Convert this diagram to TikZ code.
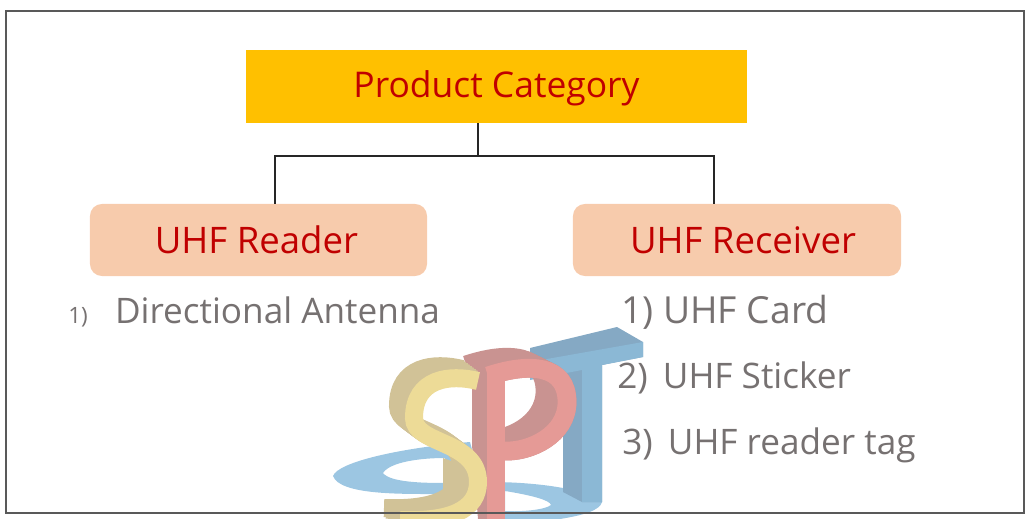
\documentclass[tikz,border=0pt]{standalone}
\usepackage{fontspec}
\setmainfont{Open Sans}
\definecolor{catfill}{HTML}{FFC000}
\definecolor{subfill}{HTML}{F7CBAC}
\definecolor{headred}{HTML}{C00000}
\definecolor{itemgray}{HTML}{767171}
\definecolor{framegray}{HTML}{595959}
\definecolor{ringblue}{HTML}{9CC6E2}
\definecolor{sfront}{HTML}{EDDB97}
\definecolor{sback}{HTML}{D1C297}
\definecolor{pfront}{HTML}{E59A96}
\definecolor{pback}{HTML}{C99391}
\definecolor{tfront}{HTML}{8BB8D5}
\definecolor{tback}{HTML}{85A9C4}
\newcommand{\spath}{(478,381) .. controls (450,374) and (414,378) .. (414,418) .. controls (414,445) and (478,440) .. (478,482) .. controls (478,510) and (450,522) .. (400,520)}
\newcommand{\ppath}{(488,376) .. controls (530,362) and (567,365) .. (567,402) .. controls (567,435) and (530,452) .. (505,451)}
\tikzset{
  headbox/.style={text=headred, font=\fontsize{26}{28}\selectfont, align=center, inner sep=0pt},
  subbox/.style={headbox, fill=subfill, rounded corners=0.3cm, minimum height=1.8cm},
  itemtext/.style={text=itemgray, font=\fontsize{25}{28}\selectfont, anchor=base west, inner sep=0pt},
  link/.style={draw=black!85, line width=0.8pt}
}
\begin{document}
\begin{tikzpicture}[x=0.025cm,y=-0.025cm]
\useasboundingbox (0,0) rectangle (1025,519);
%% Logo
\fill[ringblue, even odd rule] (333,476) .. controls (338,462) and (400,448) .. (470,442) -- (480,480) -- (440,494) .. controls (400,494) and (340,495) .. (333,476) -- cycle
  (383,473) .. controls (390,462) and (420,458) .. (445,458) -- (445,483) .. controls (420,483) and (390,482) .. (383,473) -- cycle;
\fill[ringblue, even odd rule] (490,482) .. controls (540,482) and (590,490) .. (602,502) .. controls (600,510) and (585,515) .. (560,519) -- (490,519) -- cycle
  (505,491) .. controls (530,495) and (550,500) .. (551,505) .. controls (545,510) and (520,512) .. (505,511) -- cycle;
\fill[tback] (530,348) -- (617,327) -- (643,342) -- (643,357) -- (602,365) -- (602,502) -- (582,502) -- (563,492) -- (563,370) -- (530,375) -- cycle;
\fill[tfront] (530,362) -- (643,342) -- (643,357) -- (602,365) -- (602,502) -- (582,502) -- (582,370) -- (530,380) -- cycle;
\fill[pback] (472,363) -- (487,372) -- (505,519) -- (478,519) -- (472,445) -- cycle;
\foreach \k in {0,1,...,11} {
  \draw[pback, line width=0.47cm, shift={(-2*\k,-\k)}] \ppath;
}
\draw[pfront, line width=0.47cm, line join=round] (496,372) -- (496,519);
\draw[pfront, line width=0.47cm] \ppath;
%% S shape, side then face
\foreach \k in {1,...,8} {
  \draw[sback, line width=0.45cm, shift={(-2*\k,-1.5*\k)}] \spath;
}
\fill[sback] (443,458) -- (462,465) -- (470,490) -- (462,503) -- (443,494) -- cycle;
\draw[sfront, line width=0.45cm] \spath;
%% Frame
\draw[framegray, line width=2pt] (6,11) rectangle (1024,513);
%% Nodes
\node[headbox, font=\fontsize{25.2}{28}\selectfont, text depth=0.12cm, fill=catfill, minimum width=12.525cm, minimum height=1.825cm](cat) at (496.5,86.5) {Product Category};
\node[subbox, minimum width=8.425cm](reader) at (258.5,240) {\hspace*{-0.1cm}UHF Reader};
\node[subbox, minimum width=8.2cm](receiver) at (737,240) {\hspace*{0.3cm}UHF Receiver};
\coordinate (bus) at (478,156);
\coordinate (busleft) at (275,156);
\coordinate (busright) at (714,156);
\node[itemtext](item0) at (68,323) {{\fontsize{16}{18}\selectfont 1)}\hspace{0.68cm}Directional Antenna};
\node[itemtext, font=\fontsize{26.5}{28}\selectfont](item1) at (621,323) {1) UHF Card};
\node[itemtext](item2) at (617,388) {2)\hspace{0.15cm} UHF Sticker};
\node[itemtext](item3) at (622,454) {3)\hspace{0.15cm} UHF reader tag};
%% Lines
\draw[link] (cat.south -| bus) -- (bus);
\draw[link] (reader.north -| busleft) -- (busleft) -- (busright) -- (receiver.north -| busright);
\end{tikzpicture}
\end{document}
